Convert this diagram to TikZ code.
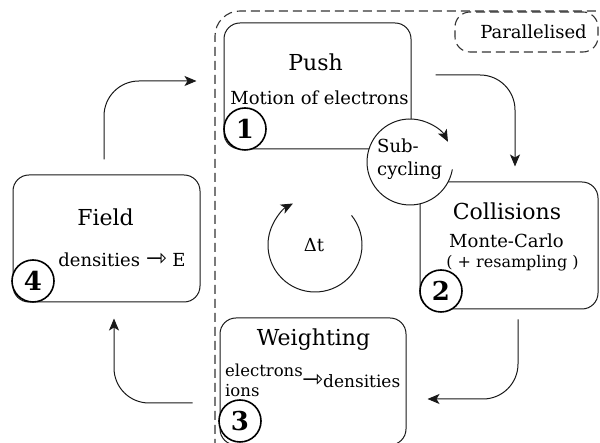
\documentclass[tikz,border=0pt]{standalone}
\usepackage{fontspec}
\setmainfont{DejaVu Serif}
\newfontfamily\symfont{DejaVu Sans}
\usetikzlibrary{arrows.meta,calc}
\newcommand{\openarr}{{\symfont\fontsize{25}{20}\selectfont ⇾}}
\begin{document}
\begin{tikzpicture}[x=1pt,y=1pt,
  ln/.style={draw=black!90, line width=1pt},
  box/.style={ln, rectangle, rounded corners=16pt, inner sep=0pt},
  num/.style={circle, draw=black, line width=1.6pt, fill=white, minimum size=42pt, inner sep=0pt, font=\bfseries\fontsize{26}{26}\selectfont},
  ttl/.style={font=\fontsize{22}{24}\selectfont, inner sep=0pt},
  txt/.style={font=\fontsize{18}{21}\selectfont, inner sep=0pt},
  tip/.style={-{Stealth[length=12pt,width=10pt,inset=3pt]}},
  conn/.style={ln, tip, rounded corners=35pt},
  dsh/.style={draw=black!80, line width=1.1pt, dash pattern=on 9pt off 5pt}
]
\useasboundingbox (0,0) rectangle (600,443);
\clip (0,0) rectangle (600,443);
\fill[white] (0,0) rectangle (600,443);

% parallelised region
\draw[dsh, rounded corners=25pt] (215,-30) rectangle (650,432);
\node[dsh, rounded corners=15pt, minimum width=143pt, minimum height=40pt, inner sep=0pt] (parbox) at (526.5,411) {};
\node[txt] (partxt) at (533.5,411) {Parallelised};

% boxes
\node[box, minimum width=187pt, minimum height=126pt] (push) at (317.5,357) {};
\node[box, minimum width=178pt, minimum height=127pt] (coll) at (509,197.5) {};
\node[box, minimum width=187pt, minimum height=127pt] (field) at (106.5,204.5) {};
\node[box, minimum width=186pt, minimum height=127pt] (weigh) at (313,61.5) {};

% sub-cycling
\node[circle, fill=white, minimum size=86pt, inner sep=0pt] (sub) at (410,281) {};
\draw[ln, tip] ($(sub.center)+(-10:43)$) arc[start angle=-10, end angle=-332, radius=43];
\node[txt, align=left, anchor=west, font=\fontsize{18}{23}\selectfont] (subtxt) at (377,283.5) {Sub-\\cycling};

% delta t
\node[circle, minimum size=94pt, inner sep=0pt] (dt) at (315,198) {};
\draw[ln, tip] ($(dt.center)+(39:47)$) arc[start angle=39, end angle=-242, radius=47];
\node[txt] (dtlbl) at (314,198) {Δt};

% texts
\node[ttl] (pushT) at (315.5,381) {Push};
\node[txt] (pushS) at (319.5,345) {Motion of electrons};
\node[ttl] (collT) at (507,232) {Collisions};
\node[txt] (collS) at (506.5,202) {Monte-Carlo};
\node[txt, font=\fontsize{16}{18}\selectfont] (collR) at (512.5,180) {( + resampling )};
\node[ttl] (fieldT) at (105.5,226) {Field};
\node[txt] (fieldS) at (122,183) {densities \openarr{} E};
\node[ttl] (wT) at (313.5,103) {Weighting};
\node[txt, anchor=west, align=left, font=\fontsize{16.5}{20}\selectfont] (wS) at (225,63) {electrons\\ions};
\node[txt, anchor=west, font=\fontsize{17}{20}\selectfont] (wD) at (302,62) {\openarr densities};

% numbers
\node[num] (n1) at (245,314) {1};
\node[num] (n2) at (441,152) {2};
\node[num] (n3) at (240,22) {3};
\node[num] (n4) at (33,162) {4};

% connectors
\draw[conn] ($(field.north)+(-2.5,15)$) |- ($(push.west)+(-27,5)$);
\draw[conn] ($(push.east)+(24,11)$) -| ($(coll.north)+(6,15)$);
\draw[conn] ($(coll.south)+(9,-10)$) |- ($(weigh.east)+(21,-17.5)$);
\draw[conn] ($(weigh.west)+(-27,-21.5)$) -| ($(field.south)+(7.5,-16)$);
\end{tikzpicture}
\end{document}
